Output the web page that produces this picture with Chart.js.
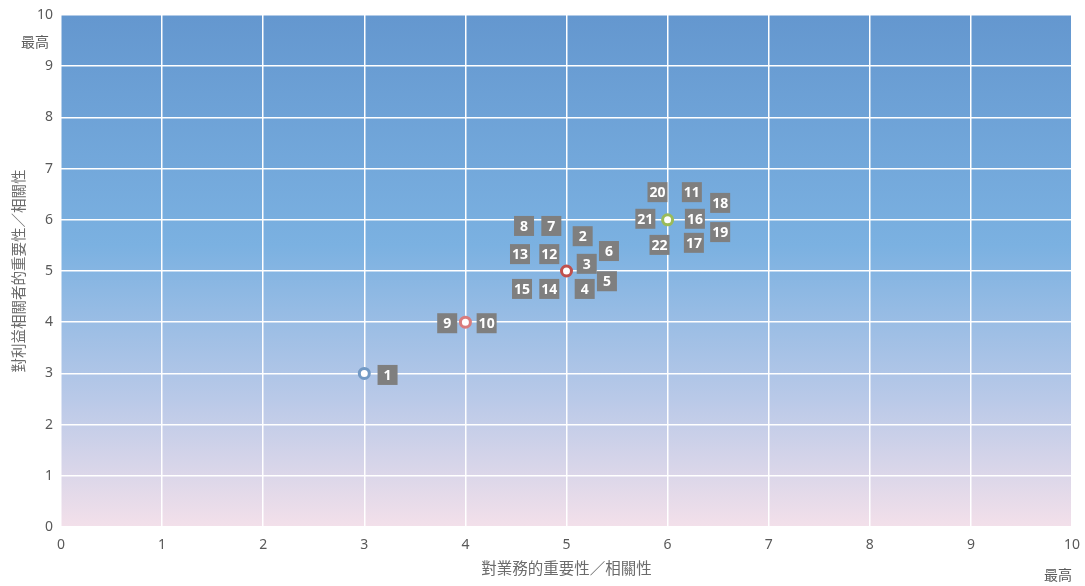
<!DOCTYPE html>
<html lang="zh-Hant">
<head>
<meta charset="UTF-8">
<title>重要性矩陣</title>
<script src="https://cdn.jsdelivr.net/npm/chart.js"></script>
<style>
    html, body { margin: 0; padding: 0; background: #fff; }
    #wrap { width: 1085px; height: 586px; }
</style>
</head>
<body>
<div id="wrap"><canvas id="matrix"></canvas></div>
<script>
// points (business relevance, stakeholder relevance)
const pointX = [3, 4, 5, 6];
const pointY = [3, 4, 5, 6];
const pointColors = ['#7299c4', '#d97b7c', '#c0504d', '#9bbb59'];

// numbered topic labels, placed in data units
const topicNames = ['1', '9', '10', '8', '7', '2', '13', '12', '6', '3', '5', '15', '14', '4',
                    '20', '11', '18', '21', '16', '19', '22', '17'];
const topicX = [3.23, 3.82, 4.21, 4.58, 4.85, 5.16, 4.54, 4.83, 5.42, 5.20, 5.40, 4.56, 4.83, 5.18,
                5.90, 6.24, 6.52, 5.78, 6.27, 6.52, 5.92, 6.26];
const topicY = [2.97, 3.98, 3.98, 5.88, 5.88, 5.68, 5.33, 5.33, 5.39, 5.14, 4.80, 4.65, 4.65, 4.65,
                6.54, 6.54, 6.33, 6.02, 6.02, 5.76, 5.51, 5.55];

const xTitle = '對業務的重要性／相關性';
const yTitle = '對利益相關者的重要性／相關性';
const maxLabel = '最高';

const fontFamily = '"Noto Sans", "Noto Sans CJK TC", sans-serif';
const textColor = '#595959';
const titleColor = '#6b6b6b';

const backdrop = {
    id: 'backdrop',
    beforeDraw(chart) {
        const { ctx, chartArea: a } = chart;
        const g = ctx.createLinearGradient(0, a.top, 0, a.bottom);
        g.addColorStop(0, '#6497cf');
        g.addColorStop(0.45, '#7bb1e1');
        g.addColorStop(0.75, '#b9c9e8');
        g.addColorStop(1, '#f3e0ea');
        ctx.save();
        ctx.fillStyle = g;
        ctx.fillRect(a.left, a.top, a.right - a.left, a.bottom - a.top);
        ctx.restore();
    }
};

const topicTags = {
    id: 'topicTags',
    afterDatasetsDraw(chart) {
        const { ctx, scales } = chart;
        ctx.save();
        ctx.font = 'bold 14px ' + fontFamily;
        ctx.textAlign = 'center';
        ctx.textBaseline = 'middle';
        topicNames.forEach((name, i) => {
            const px = scales.x.getPixelForValue(topicX[i]);
            const py = scales.y.getPixelForValue(topicY[i]);
            ctx.fillStyle = '#7f7f7f';
            ctx.fillRect(px - 10, py - 10, 20, 20);
            ctx.fillStyle = '#ffffff';
            ctx.fillText(name, px, py + 1);
        });
        // "最高" marks under the top tick on each axis
        ctx.font = '14px ' + fontFamily;
        ctx.fillStyle = textColor;
        ctx.textAlign = 'right';
        ctx.fillText(maxLabel, scales.y.right - 12, scales.y.getPixelForValue(10) + 28);
        ctx.fillText(maxLabel, scales.x.getPixelForValue(10), scales.x.bottom - 10);
        ctx.restore();
    }
};

new Chart(document.getElementById('matrix'), {
    type: 'scatter',
    data: {
        datasets: [{
            data: pointX.map((x, i) => ({ x: x, y: pointY[i] })),
            pointRadius: 5,
            pointHoverRadius: 5,
            pointBorderWidth: 3,
            pointBackgroundColor: '#ffffff',
            pointBorderColor: pointColors
        }]
    },
    options: {
        responsive: true,
        maintainAspectRatio: false,
        animation: false,
        layout: { padding: { top: 15, right: 13, left: 0, bottom: 0 } },
        plugins: { legend: { display: false }, tooltip: { enabled: false } },
        scales: {
            x: {
                min: 0, max: 10,
                afterFit(scale) { scale.height = 59; scale.paddingRight = 0; scale.paddingLeft = 0; },
                grid: { color: '#ffffff', lineWidth: 1.5, drawTicks: false },
                border: { display: false },
                ticks: { stepSize: 1, padding: 10, color: textColor, font: { family: fontFamily, size: 14 } },
                title: { display: true, text: xTitle, color: titleColor, padding: { top: 4, bottom: 7 },
                         font: { family: fontFamily, size: 15.5 } }
            },
            y: {
                min: 0, max: 10,
                afterFit(scale) { scale.width = 61; scale.paddingTop = 0; scale.paddingBottom = 0; },
                grid: { color: '#ffffff', lineWidth: 1.5, drawTicks: false },
                border: { display: false },
                ticks: { stepSize: 1, padding: 8, color: textColor, font: { family: fontFamily, size: 14 } },
                title: { display: true, text: yTitle, color: titleColor, padding: { top: 11, bottom: 4 },
                         font: { family: fontFamily, size: 14.5 } }
            }
        }
    },
    plugins: [backdrop, topicTags]
});
</script>
</body>
</html>
